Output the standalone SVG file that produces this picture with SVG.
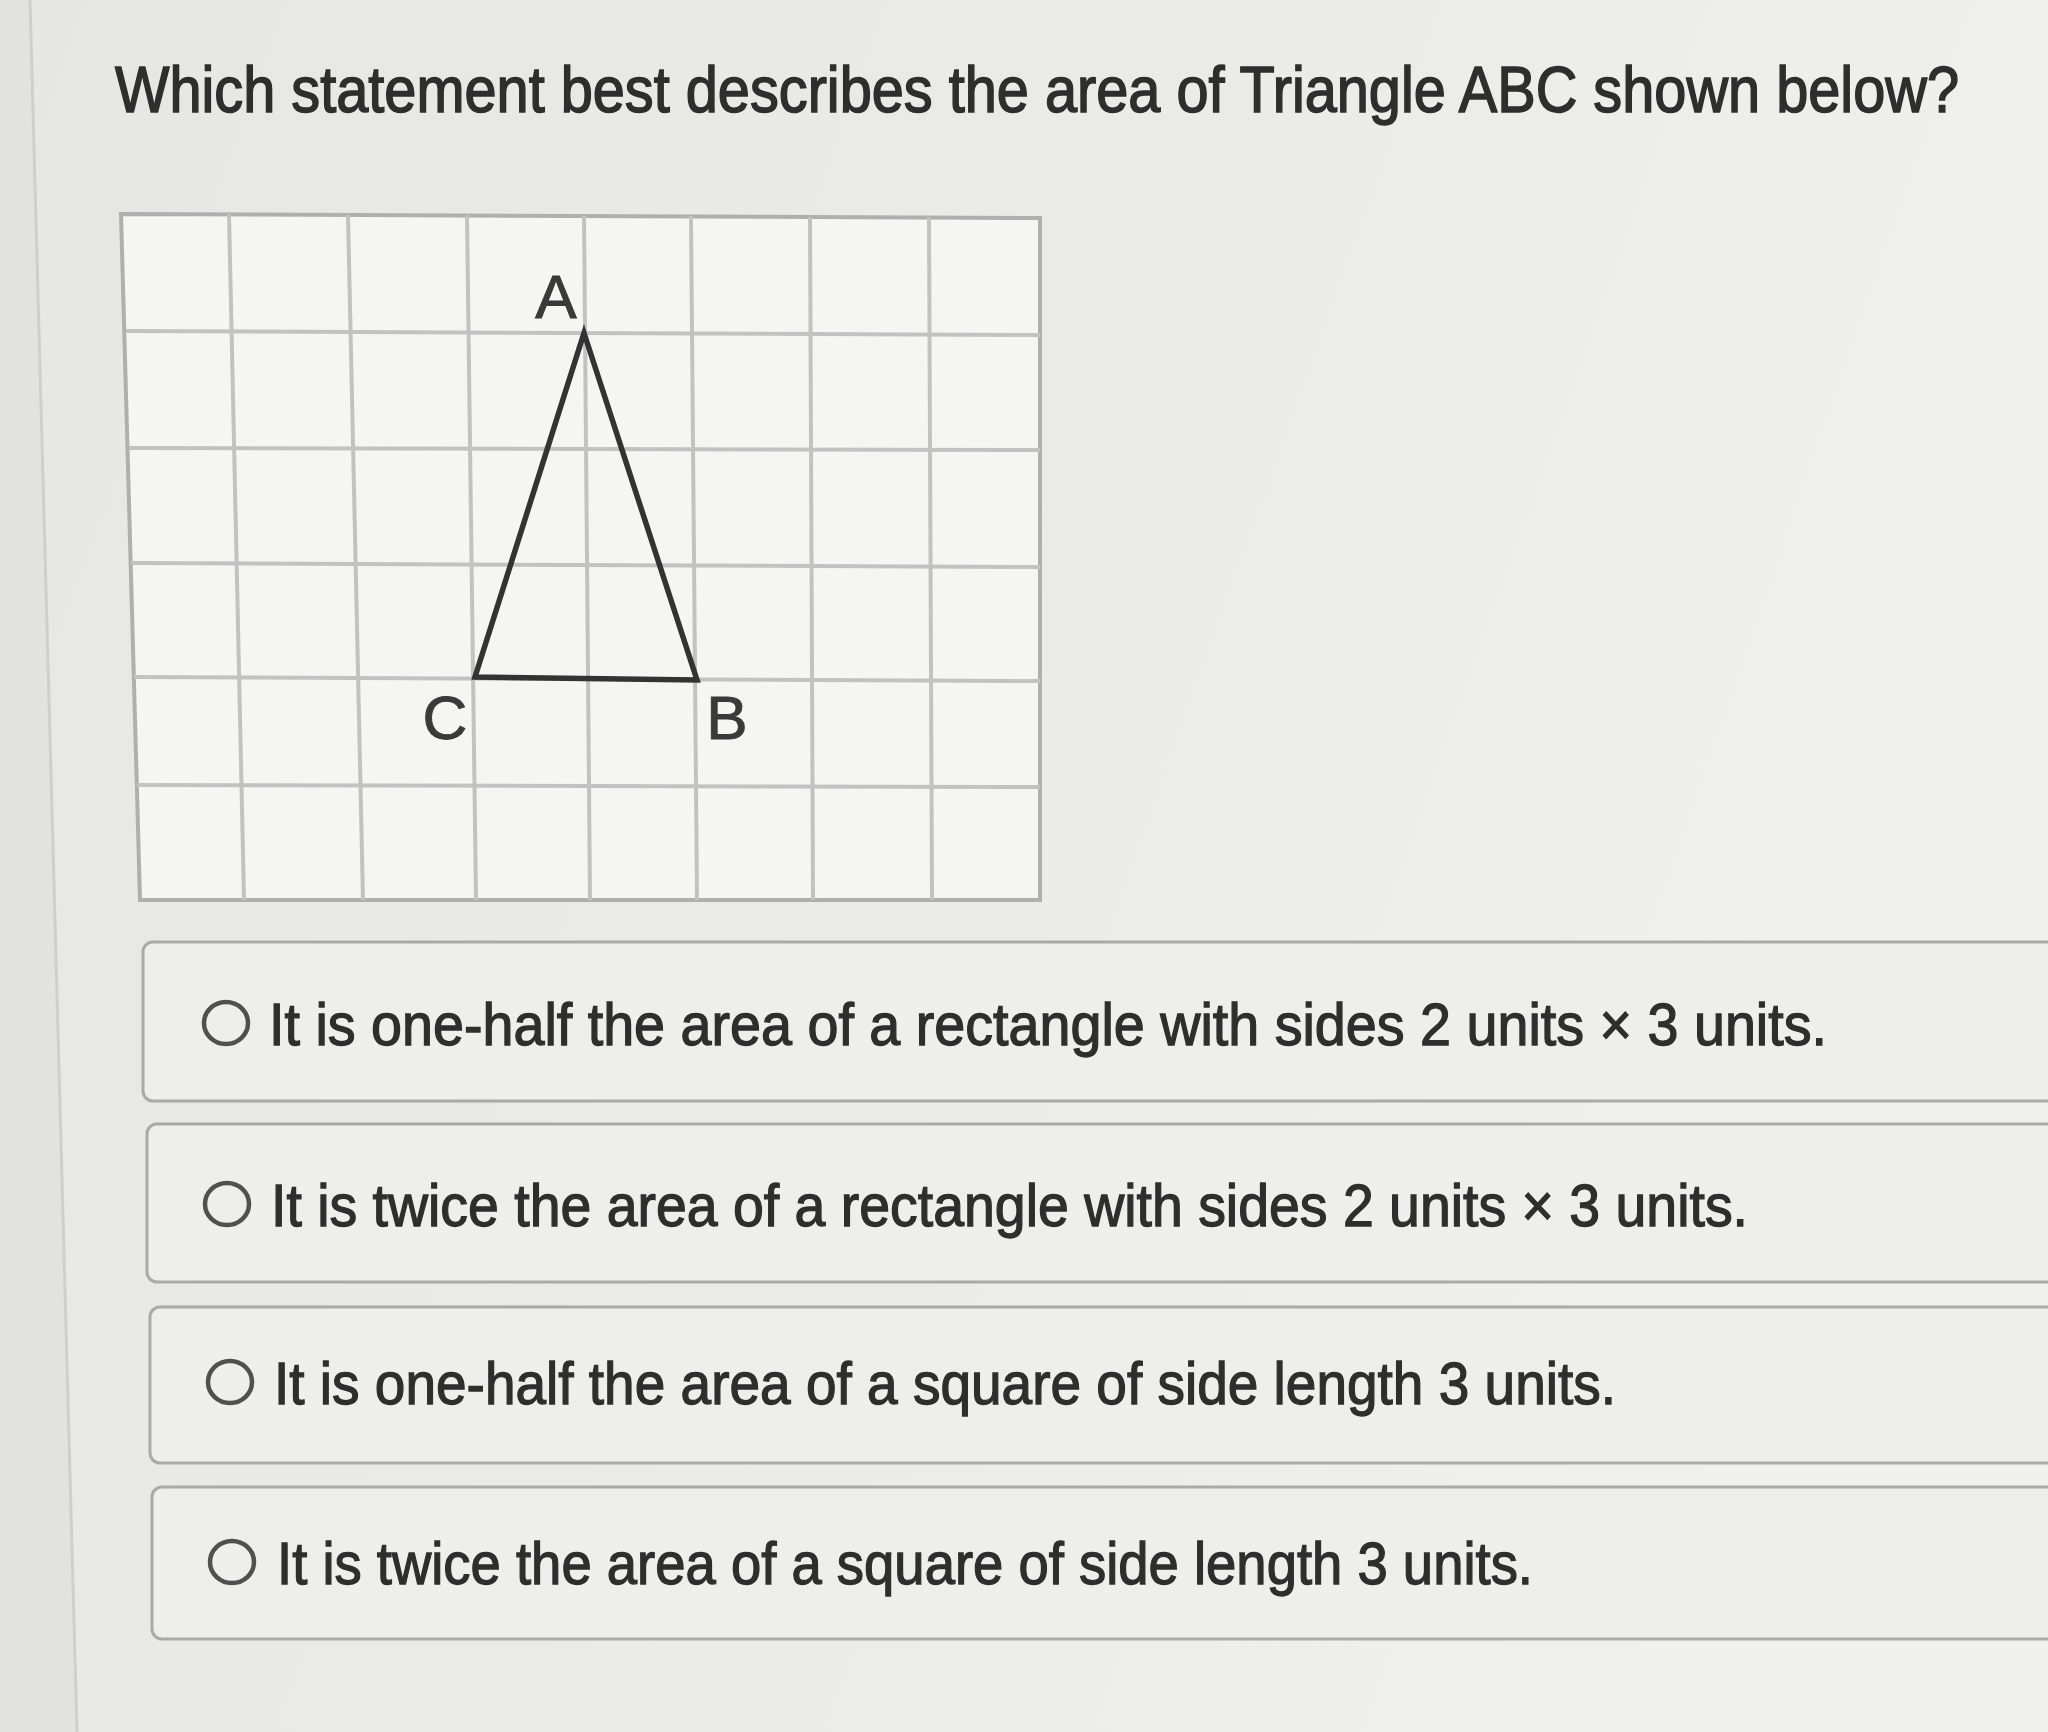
<svg xmlns="http://www.w3.org/2000/svg" width="2048" height="1732" viewBox="0 0 2048 1732">
<defs>
<linearGradient id="bg" x1="0" y1="0" x2="1" y2="0.3">
<stop offset="0" stop-color="#e6e6e4"/>
<stop offset="0.6" stop-color="#ebebea"/>
<stop offset="1" stop-color="#f0f0ef"/>
</linearGradient>
<style>
.t{font-family:"Liberation Sans",Arial,sans-serif;fill:#2e2e2e;stroke:#2e2e2e;stroke-width:1.3}
.opt{font-size:60px}
.box{fill:#eeeeed;stroke:#a9a9a9;stroke-width:3}
.radio{fill:none;stroke:#505050;stroke-width:4.5}
.g{stroke:#c2c2c2;stroke-width:4;fill:none}
.lbl{font-size:62px;fill:#3a3a3a;stroke:#3a3a3a;stroke-width:1}
</style>
</defs>
<rect width="2048" height="1732" fill="url(#bg)"/>
<polygon points="0,0 30,0 77,1732 0,1732" fill="#e2e2e0"/>
<line x1="30" y1="0" x2="77" y2="1732" stroke="#cfcfcd" stroke-width="3"/>

<text id="title" class="t" transform="translate(115,112) scale(1,1.185)" x="0" y="0" font-size="54" textLength="1844" lengthAdjust="spacingAndGlyphs">Which statement best describes the area of Triangle ABC shown below?</text>

<g id="grid">
<polygon points="121,214 1040,218 1040,900 140,900" fill="#f5f5f4" stroke="#afafaf" stroke-width="4"/>
<line class="g" x1="229" y1="214" x2="244" y2="900"/>
<line class="g" x1="348" y1="215" x2="363" y2="900"/>
<line class="g" x1="467" y1="215" x2="476" y2="900"/>
<line class="g" x1="584" y1="216" x2="590" y2="900"/>
<line class="g" x1="691" y1="216" x2="697" y2="900"/>
<line class="g" x1="810" y1="217" x2="813" y2="900"/>
<line class="g" x1="929" y1="217" x2="932" y2="900"/>
<line class="g" x1="126" y1="331" x2="1040" y2="335"/>
<line class="g" x1="129" y1="448" x2="1040" y2="450"/>
<line class="g" x1="131" y1="563" x2="1040" y2="567"/>
<line class="g" x1="134" y1="677" x2="1040" y2="681"/>
<line class="g" x1="137" y1="785" x2="1040" y2="787"/>
</g>

<g id="triangle">
<polygon points="584,333 697,680 475,677" fill="none" stroke="#333" stroke-width="5.5" stroke-linejoin="miter"/>
<text class="t lbl" x="556" y="318" text-anchor="middle">A</text>
<text class="t lbl" x="445" y="739" text-anchor="middle">C</text>
<text class="t lbl" x="727" y="739" text-anchor="middle">B</text>
</g>

<g id="option1">
<rect class="box" x="143" y="942" width="1940" height="159" rx="10"/>
<ellipse class="radio" cx="226" cy="1023" rx="22" ry="21"/>
<text class="t opt" x="269" y="1045" textLength="1558" lengthAdjust="spacingAndGlyphs">It is one-half the area of a rectangle with sides 2 units × 3 units.</text>
</g>
<g id="option2">
<rect class="box" x="147" y="1124" width="1940" height="158" rx="10"/>
<ellipse class="radio" cx="227" cy="1204" rx="22" ry="21"/>
<text class="t opt" x="271" y="1226" textLength="1477" lengthAdjust="spacingAndGlyphs">It is twice the area of a rectangle with sides 2 units × 3 units.</text>
</g>
<g id="option3">
<rect class="box" x="150" y="1307" width="1940" height="156" rx="10"/>
<ellipse class="radio" cx="230" cy="1382" rx="22" ry="21"/>
<text class="t opt" x="274" y="1404" textLength="1342" lengthAdjust="spacingAndGlyphs">It is one-half the area of a square of side length 3 units.</text>
</g>
<g id="option4">
<rect class="box" x="152" y="1487" width="1940" height="152" rx="10"/>
<ellipse class="radio" cx="232" cy="1562" rx="22" ry="21"/>
<text class="t opt" x="277" y="1584" textLength="1256" lengthAdjust="spacingAndGlyphs">It is twice the area of a square of side length 3 units.</text>
</g>
</svg>
